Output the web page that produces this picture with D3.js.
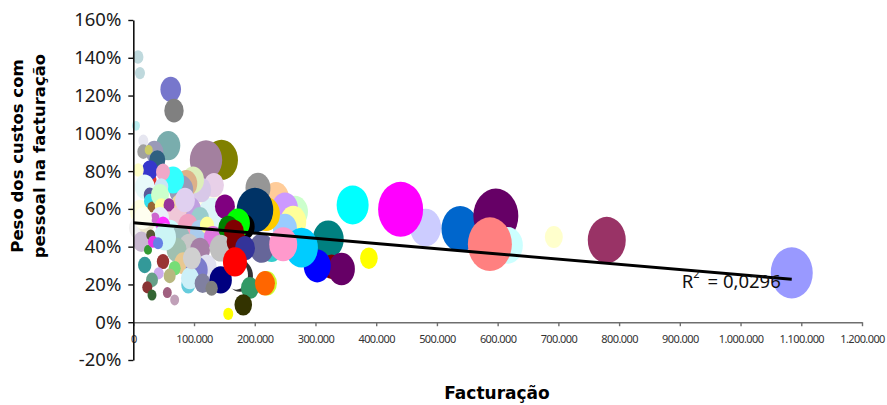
<!DOCTYPE html>
<html><head><meta charset="utf-8">
<script src="https://cdn.jsdelivr.net/npm/d3@7"></script>
<style>body{margin:0;background:#fff;} svg{display:block;}</style>
</head><body><svg id="c" width="887" height="405"></svg>
<script>
// ---- data ----
const xTicks = [0,100000,200000,300000,400000,500000,600000,700000,800000,900000,1000000,1100000,1200000];
const yTicks = [-0.2,0,0.2,0.4,0.6,0.8,1.0,1.2,1.4,1.6];
const xTitle = "Facturação";
const yTitle = ["Peso dos custos com", "pessoal na facturação"];
const r2Value = "0,0296";
const trendIntercept = 0.527;
const trendSlope = -2.76e-7;
const trendRange = [0, 1084300];

const revenue = [
 1084300,779700,692500,361200,481300,440200,538300,597000,616800,587200,388000,321000,326600,343000,302900,
 266200,234900,249700,263400,249700,227800,211400,277200,246900,205300,218400,200300,
 145200,119700,57600,34600,16500,16500,25400,39500,30000,27500,8200,7700,11000,61600,67000,4400,
 123000,129500,132800,111900,98300,87200,79000,65400,48900,46100,18800,93300,63700,76900,109800,11000,7700,20900,
 27000,27500,30800,44000,46100,58800,44000,35700,73600,90000,109800,60400,48900,76900,121300,131200,91700,109800,
 71400,82300,120800,104400,90500,93300,114200,
 85100,52200,96600,16000,
 150900,182600,172300,156400,165800,143900,170200,183900,175600,169100,143900,167400,192100,220100,216800,181100,156400,129000,
 13200,28600,24200,32400,40700,18800,48900,41800,68100,59900,30800,23000,30800,56000,68100
];
const staffShare = [
 0.261,0.435,0.451,0.621,0.501,0.598,0.494,0.562,0.407,0.413,0.339,0.439,0.294,0.282,0.298,
 0.585,0.658,0.603,0.532,0.497,0.383,0.392,0.395,0.413,0.711,0.573,0.594,
 0.859,0.859,0.935,0.903,0.961,0.903,0.912,0.859,0.753,0.806,0.806,1.404,1.319,1.233,1.120,1.040,
 0.658,0.568,0.726,0.700,0.753,0.735,0.700,0.753,0.795,0.717,0.717,0.594,0.584,0.621,0.552,0.584,0.499,0.531,
 0.674,0.642,0.610,0.674,0.615,0.621,0.552,0.552,0.552,0.510,0.478,0.478,0.515,0.446,0.515,0.451,0.404,0.383,
 0.383,0.312,0.294,0.277,0.197,0.233,0.206,
 0.647,0.451,0.339,0.551,
 0.612,0.505,0.525,0.499,0.478,0.392,0.426,0.392,0.245,0.250,0.224,0.319,0.181,0.206,0.206,0.092,0.044,0.180,
 0.426,0.462,0.383,0.426,0.418,0.303,0.321,0.259,0.286,0.245,0.224,0.185,0.144,0.157,0.118
];
const bubbleSize = [
 441,361,81,256,240,506,350,506,225,484,77,240,100,177,182,
 169,169,169,169,144,100,144,266,196,156,196,335,
 272,262,144,81,25,36,16,64,25,64,30,30,25,106,94,16,
 196,196,100,100,121,121,144,121,49,49,100,121,100,81,81,100,81,81,
 36,36,20,81,42,30,81,20,81,100,100,100,49,100,49,81,100,100,
 100,81,100,121,49,81,64,
 100,121,81,81,
 100,110,144,100,100,121,100,100,169,144,125,144,81,100,100,77,25,38,
 69,20,16,25,25,45,38,25,36,36,36,25,20,20,20
];
const bubbleColor = [
 "#9999FF","#993366","#FFFFCC","#00FFFF","#CCCCFF","#FF00FF","#0066CC","#660066","#CCFFFF","#FF8080","#FFFF00","#008080","#800000","#660066","#0000FF",
 "#CCFFCC","#FFCC99","#CC99FF","#FFFF99","#99CCFF","#33CCCC","#666699","#00CCFF","#FF99CC","#969696","#FFCC00","#003366",
 "#808000","#A3809F","#79ADAD","#9A9AB8","#E6E6F0","#A0A0A0","#CCCC66","#2F6080","#E03333","#3636CC","#FFFFC8","#BFD9DD","#BFD9DD","#7777CC","#808080","#BBEEF0",
 "#FFFFE6","#DDF5F8","#E8D0E8","#D8C8E8","#DDEEBB","#DDB088","#9999B8","#33FFFF","#F0A8C8","#CCE5F5","#E8FAFA","#C0A0E0","#F8D0D8","#F0D8A0","#99CCCC","#FFFFE0","#F0F0F0","#EEE8D0",
 "#5A5A9A","#33DDEE","#996633","#CCFFCC","#FFFFA0","#993399","#E8F0F8","#CC66CC","#F0C8D8","#F0A0C0","#AACCEE","#CCFFFF","#FF33FF","#99BBBB","#FFFF99","#DD77DD","#C8C8C8","#A67FA6",
 "#A0C0B0","#E8C890","#E0E0F0","#7B7BCC","#66CCDD","#CCF0F8","#8080A0",
 "#E0D0F0","#CCF5F5","#D0D0D0","#FFFFF0",
 "#800080","#000000","#00FF00","#008000","#800000","#C0C0C0","#800000","#333399","#333333","#FFFFFF","#000080","#FF0000","#339966","#CCFF33","#FF6600","#333300","#FFFF00","#808080",
 "#C8B8D0","#555533","#339933","#E633E6","#6680E6","#339999","#993333","#CCAAEE","#77DD77","#B8B880","#66A088","#883333","#336633","#A06080","#C0A0B8"
];

// ---- chart ----
const svg = d3.select("#c");
const x = d3.scaleLinear().domain([0, 1200000]).range([133.3, 862]);
const y = d3.scaleLinear().domain([-0.2, 1.6]).range([360, 20]);
const r = d3.scaleSqrt().domain([0, 506]).range([0, 22.5]);
const aspect = 1.22;

const loc = d3.formatLocale({decimal: ",", thousands: ".", grouping: [3], currency: ["", "€"], minus: "-"});
const fx = loc.format(",.0f");
const fy = loc.format(".0%");

const pts = revenue.map((v, i) => ({x: v, y: staffShare[i], s: bubbleSize[i], c: bubbleColor[i]}));

svg.append("g").selectAll("ellipse").data(pts).join("ellipse")
  .attr("cx", d => x(d.x)).attr("cy", d => y(d.y))
  .attr("rx", d => r(d.s)).attr("ry", d => r(d.s) * aspect)
  .attr("fill", d => d.c);

// axes
const gx = svg.append("g").attr("transform", `translate(0,${y(0)})`)
  .call(d3.axisBottom(x).tickValues(xTicks).tickFormat(fx).tickSize(4).tickSizeOuter(0).tickPadding(9));
gx.select(".domain").attr("stroke", "#6e6e6e").attr("stroke-width", 1.6);
gx.selectAll(".tick line").attr("stroke", "#6e6e6e").attr("stroke-width", 1.4);
gx.selectAll(".tick text").attr("font-family", "'Noto Sans', sans-serif").attr("font-size", 11)
  .attr("letter-spacing", "-0.6px").attr("fill", "#333");

const gy = svg.append("g").attr("transform", `translate(${x(0)},0)`)
  .call(d3.axisLeft(y).tickValues(yTicks).tickFormat(fy).tickSize(5).tickSizeOuter(0).tickPadding(7));
gy.select(".domain").attr("stroke", "#111").attr("stroke-width", 1.6);
gy.selectAll(".tick line").attr("stroke", "#111").attr("stroke-width", 1.4);
gy.selectAll(".tick text").attr("font-family", "'Noto Sans', sans-serif").attr("font-size", 18.5).attr("fill", "#1a1a1a");

// trend line
svg.append("line")
  .attr("x1", x(trendRange[0])).attr("y1", y(trendIntercept + trendSlope * trendRange[0]))
  .attr("x2", x(trendRange[1])).attr("y2", y(trendIntercept + trendSlope * trendRange[1]))
  .attr("stroke", "#000").attr("stroke-width", 3);

// R² label
const rt = svg.append("text").attr("x", 681.7).attr("y", 288.3)
  .attr("font-family", "'Noto Sans', sans-serif").attr("font-size", 18.5).attr("fill", "#111");
rt.append("tspan").text("R");
rt.append("tspan").attr("dy", -10).attr("font-size", 11).text("2");
rt.append("tspan").attr("dy", 10).attr("dx", 8).text("= " + r2Value);

// titles
svg.append("text").attr("x", 497).attr("y", 399).attr("text-anchor", "middle")
  .attr("font-family", "'DejaVu Sans', sans-serif").attr("font-weight", "bold").attr("font-size", 17)
  .text(xTitle);
const yt = [22.7, 45];
yTitle.forEach((t, i) => {
  svg.append("text").attr("transform", `translate(${yt[i]},156) rotate(-90)`).attr("text-anchor", "middle")
    .attr("font-family", "'DejaVu Sans', sans-serif").attr("font-weight", "bold").attr("font-size", 16.5)
    .text(t);
});
</script>
</body></html>
